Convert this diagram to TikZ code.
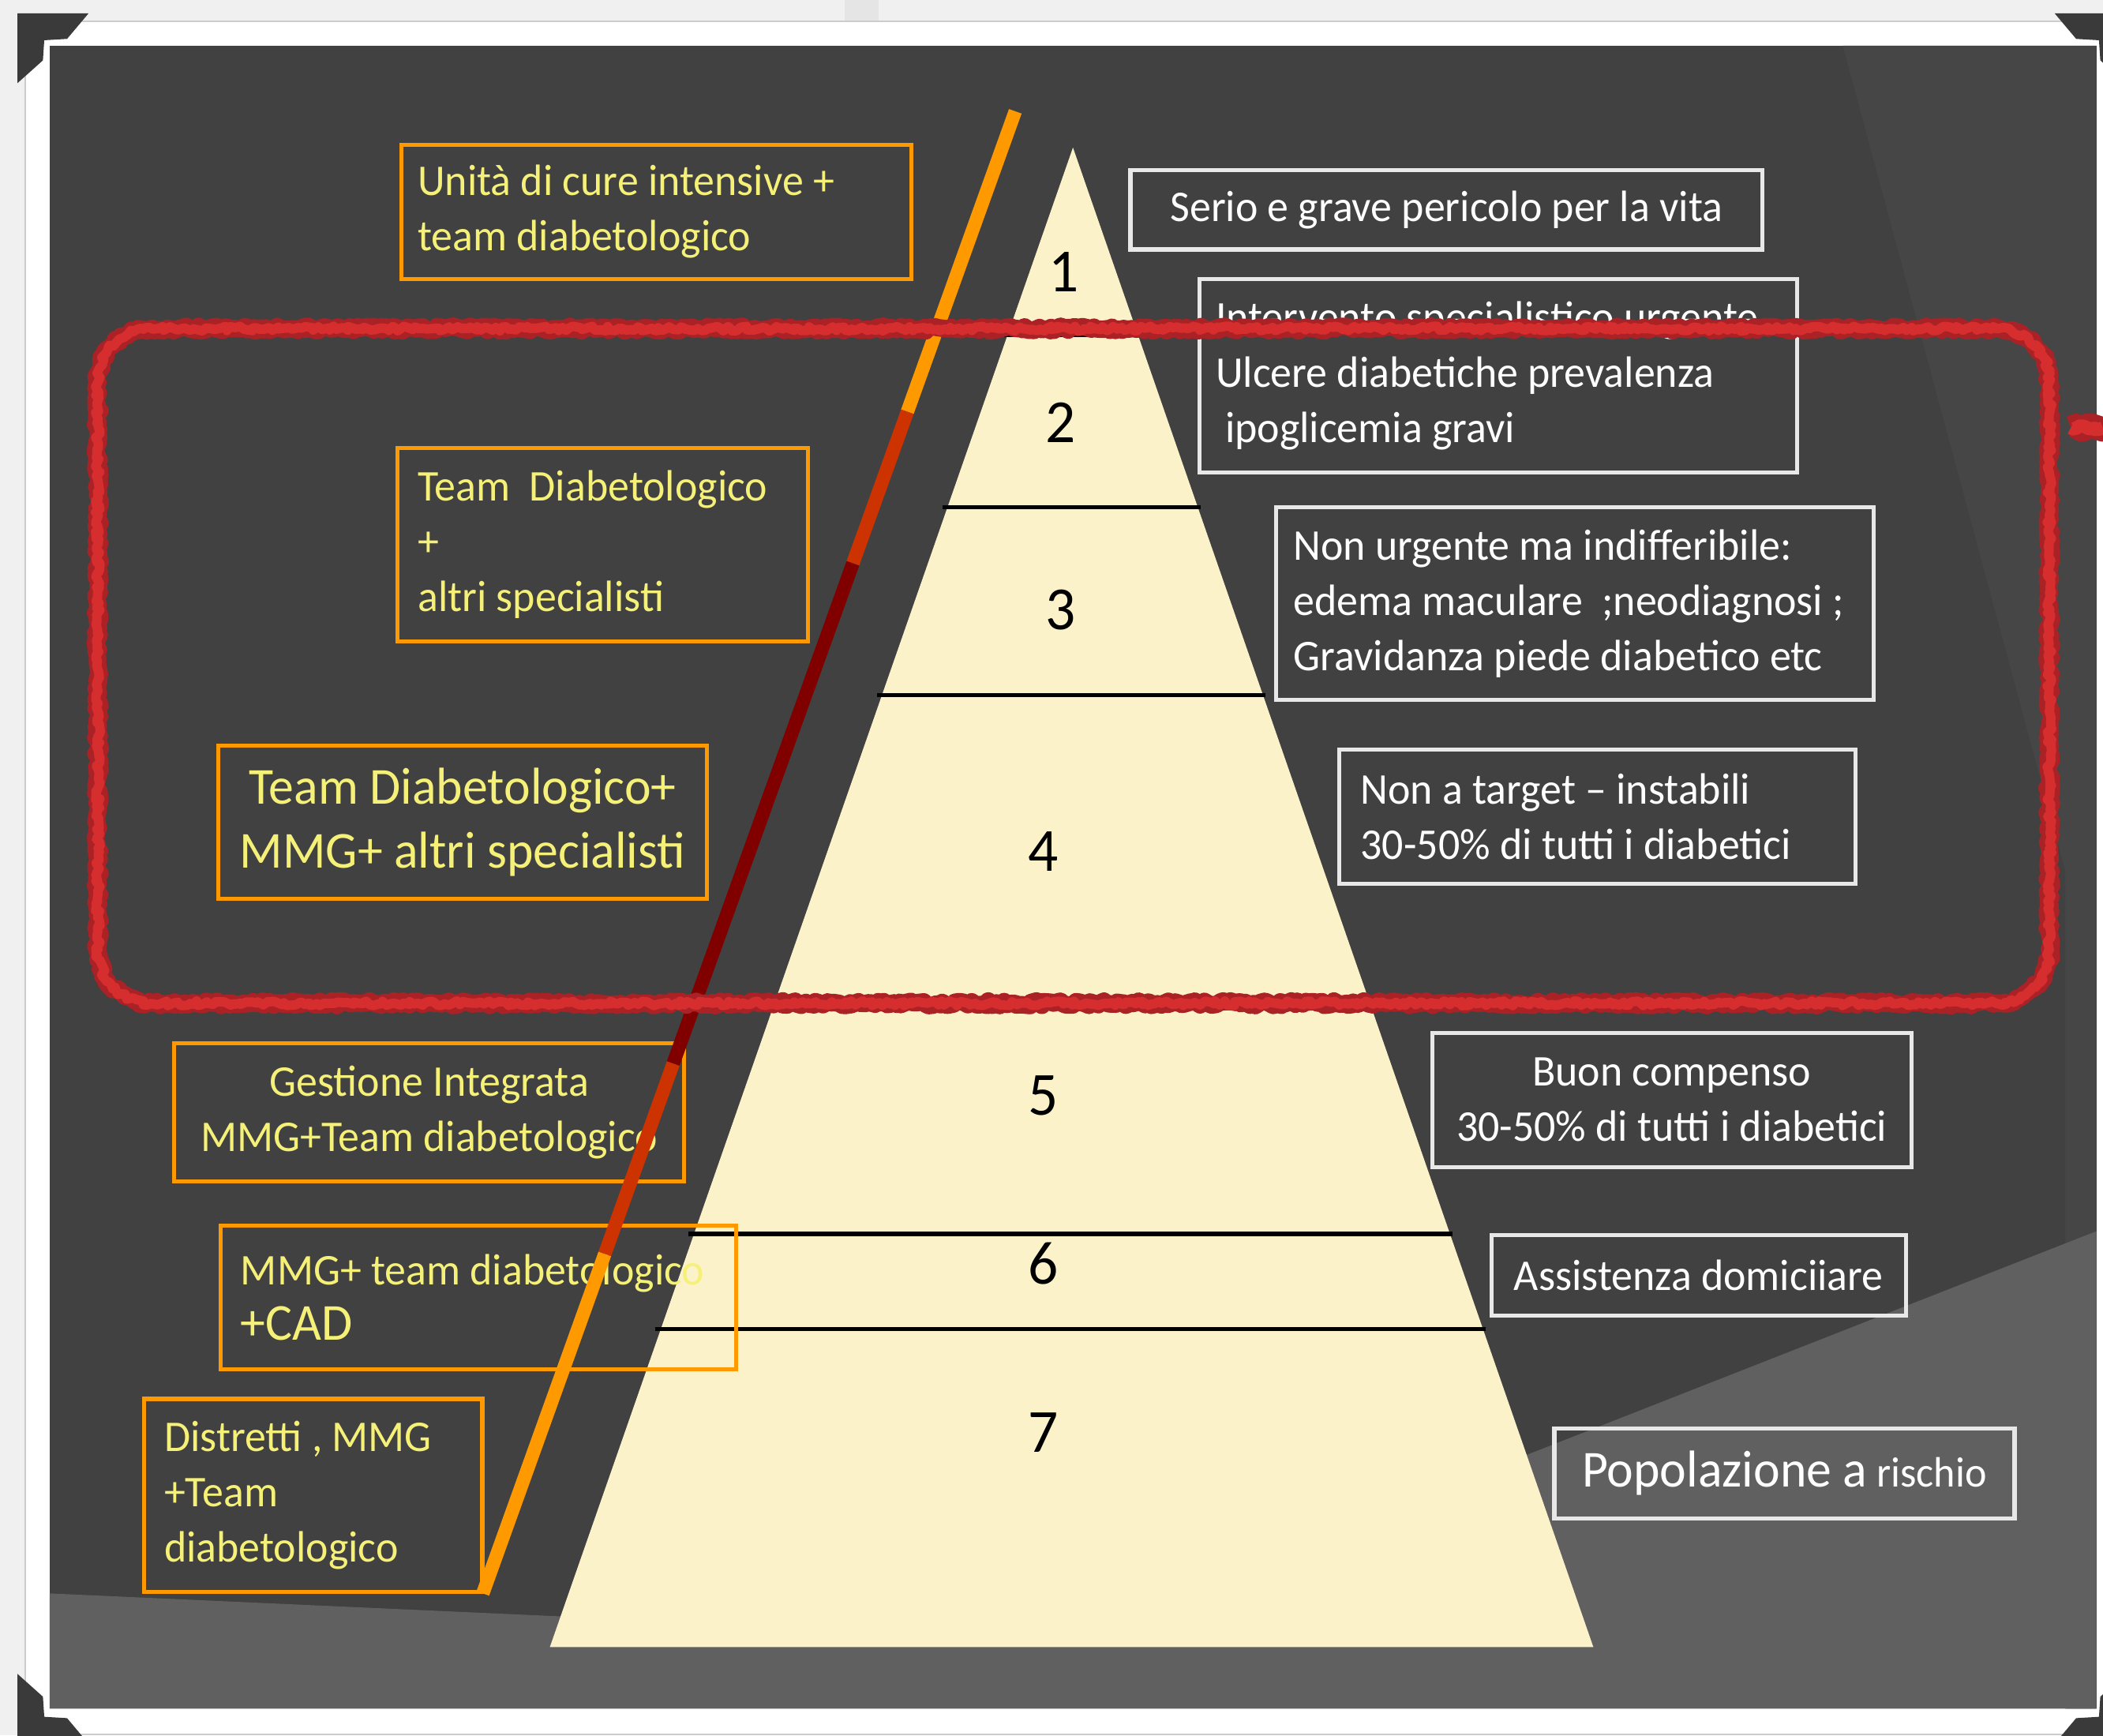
\documentclass[tikz,border=0pt]{standalone}
\usepackage{fontspec}
\setmainfont{Carlito}[FakeStretch=0.97]
\usetikzlibrary{calc,decorations.pathmorphing}

\definecolor{pagebg}{RGB}{240,240,240}
\definecolor{panelgray}{RGB}{65,65,65}
\definecolor{panelmid}{RGB}{70,70,70}
\definecolor{panellight}{RGB}{96,96,96}
\definecolor{cornergray}{RGB}{58,58,58}
\definecolor{pyrcream}{RGB}{251,242,202}
\definecolor{boxorange}{RGB}{255,153,0}
\definecolor{txtyellow}{RGB}{245,240,120}
\definecolor{boxwhite}{RGB}{232,232,232}
\definecolor{barorange}{RGB}{255,153,0}
\definecolor{barred}{RGB}{204,51,0}
\definecolor{bardark}{RGB}{128,0,0}
\definecolor{chalkdark}{RGB}{170,34,38}
\definecolor{chalkred}{RGB}{214,46,46}

\newcommand\txtnorm{\fontsize{9.3}{11.7}\selectfont\spaceskip=0.22em\relax}
\newcommand\txtsmall{\fontsize{9}{11.7}\selectfont\spaceskip=0.22em\relax}
\newcommand\txtbig{\fontsize{11}{13.4}\selectfont\spaceskip=0.22em\relax}
\newcommand\txtnum{\fontsize{13}{15}\selectfont}

\tikzset{
	tightspace/.style={execute at begin node={\spaceskip=0.22em\relax}},
	leftbox/.style={draw=boxorange, line width=0.03cm, text=txtyellow, font=\txtnorm, align=left, anchor=west, tightspace},
	rightbox/.style={draw=boxwhite, line width=0.03cm, text=white, font=\txtnorm, align=left, anchor=west, tightspace},
	levelnum/.style={font=\txtnum, text=black, inner sep=0pt},
	levelline/.style={line width=0.03cm, black},
	barline/.style={line width=0.1cm},
	chalk/.style={line join=round, decorate, decoration={random steps, segment length=0.7pt, amplitude=0.5pt}},
	photocorner/.pic={\fill[cornergray] (0,0) -- (53,0) -- (37,19) -- (20,20) -- (19,35) -- (0,52) -- cycle;},
}

\begin{document}
\begin{tikzpicture}[x=0.01cm, y=-0.01cm]
		\useasboundingbox (0,0) rectangle (1568,1294);
		
		%%%%% FRAME %%%%%
		\fill[pagebg] (0,0) rectangle (1568,1294);
		\fill[black!10] (630,0) rectangle (655,16);
		\draw[black!20, fill=white] (19,16) rectangle (1575,1293);
		\fill[panelgray] (37,34) rectangle (1563,1274);
		\fill[panelmid] (1374,34) -- (1563,34) -- (1563,1274) -- (1540,1274) -- (1540,650) -- cycle;
		\fill[panellight] (37,1188) -- (415,1205) -- (800,1215) -- (1130,1088) -- (1563,918) -- (1563,1274) -- (37,1274) -- cycle;
		
		\pic at (13,10) {photocorner};
		\pic[xscale=-1] at (1585,10) {photocorner};
		\pic[yscale=-1] at (13,1300) {photocorner};
		\pic[scale=-1] at (1585,1300) {photocorner};
		
		%%%%% PYRAMID %%%%%
		\coordinate (apex) at (800,110);
		\coordinate (baseL) at (410,1228);
		\coordinate (baseR) at (1188,1228);
		\fill[pyrcream] (apex) -- (baseR) -- (baseL) -- cycle;
		\foreach \yy in {250,378,518,752,920,991}
			\draw[levelline] ($(apex)!{(\yy-110)/1118}!(baseL)+(-4,0)$) -- ($(apex)!{(\yy-110)/1118}!(baseR)+(2,0)$);
		
		\node[levelnum] (n1) at (793,203) {1};
		\node[levelnum] (n2) at (791,315) {2};
		\node[levelnum] (n3) at (791,455) {3};
		\node[levelnum] (n4) at (778,635) {4};
		\node[levelnum] (n5) at (778,817) {5};
		\node[levelnum] (n6) at (778,942) {6};
		\node[levelnum] (n7) at (778,1068) {7};
		
		%%%%% CARE (left) %%%%%
		\node[leftbox, text width=3.56cm, inner xsep=0.12cm, minimum height=1.0cm] (care1) at (298,158) {Unità di cure intensive +\\team diabetologico};
		\node[leftbox, text width=2.76cm, inner xsep=0.15cm, minimum height=1.44cm] (care2) at (295,406) {Team\ \ Diabetologico\\+\\altri specialisti};
		\node[leftbox, anchor=center, align=center, font=\txtbig, text width=3.52cm, inner xsep=0.06cm, minimum height=1.14cm] (care3) at (345,613) {Team Diabetologico+\\MMG+ altri specialisti};
		\node[leftbox, anchor=center, align=center, text width=3.6cm, inner xsep=0.1cm, minimum height=1.03cm] (care4) at (320,829.5) {Gestione Integrata\\MMG+Team diabetologico};
		\node[leftbox, text width=3.54cm, inner xsep=0.15cm, minimum height=1.07cm] (care5) at (163,967.5) {MMG+ team diabetologico\\{\txtbig +CAD}};
		\node[leftbox, text width=2.22cm, inner xsep=0.15cm, minimum height=1.44cm] (care6) at (106,1115) {Distretti , MMG\\+Team\\diabetologico};
		
		%%%%% RISK (right) %%%%%
		\node[rightbox, anchor=center, align=center, minimum width=4.71cm, minimum height=0.59cm] (risk1) at (1078.5,156.5) {Serio e grave pericolo per la vita};
		\node[rightbox, text width=4.21cm, inner xsep=0.12cm, minimum height=1.44cm] (risk2) at (893,280) {Intervento specialistico urgente\\Ulcere diabetiche prevalenza\\\hspace*{0.07cm}ipoglicemia gravi};
		\node[rightbox, text width=4.19cm, inner xsep=0.13cm, minimum height=1.44cm] (risk3) at (950,450) {Non urgente ma indifferibile:\\edema maculare\ \ ;neodiagnosi ;\\Gravidanza piede diabetico etc};
		\node[rightbox, text width=3.53cm, inner xsep=0.16cm, minimum height=1.0cm] (risk4) at (997,609) {Non a target – instabili\\30-50\% di tutti i diabetici};
		\node[rightbox, anchor=center, align=center, text width=3.37cm, inner xsep=0.1cm, minimum height=1.0cm] (risk5) at (1246.5,820) {Buon compenso\\30-50\% di tutti i diabetici};
		\node[rightbox, anchor=center, align=center, minimum width=3.09cm, minimum height=0.6cm] (risk6) at (1266.5,951) {Assistenza domiciiare};
		\node[rightbox, anchor=center, align=center, font=\txtsmall, minimum width=3.43cm, minimum height=0.67cm] (risk7) at (1330.5,1098.5) {{\txtbig Popolazione a} rischio};
		
		%%%%% BAR %%%%%
		\coordinate (bartop) at (757,83);
		\coordinate (barbot) at (360,1188);
		\coordinate (b1) at ($(bartop)!0.2027!(barbot)$);
		\coordinate (b2) at ($(bartop)!0.305!(barbot)$);
		\coordinate (b3) at ($(bartop)!0.6425!(barbot)$);
		\coordinate (b4) at ($(bartop)!0.771!(barbot)$);
		\draw[barline, barorange] (bartop) -- (b1);
		\draw[barline, barred] (b1) -- (b2);
		\draw[barline, bardark] (b2) -- (b3);
		\draw[barline, barred] (b3) -- (b4);
		\draw[barline, barorange] (b4) -- (barbot);
		
		%%%%% CHALK LOOP %%%%%
		\foreach \w/\c/\s in {0.13cm/chalkdark/12, 0.07cm/chalkred/31}{
			\pgfmathsetseed{\s}
			\draw[chalk, draw=\c, line width=\w] (73,285) arc[start angle=180, end angle=90, radius=0.4cm] -- (1488,245) arc[start angle=90, end angle=0, radius=0.4cm] -- (1528,708) arc[start angle=0, end angle=-90, radius=0.4cm] -- (113,748) arc[start angle=-90, end angle=-180, radius=0.4cm] -- cycle;
			\draw[chalk, draw=\c, line width=1.4*\w] (1544,319) -- (1568,319);
		}
		
\end{tikzpicture}
\end{document}
